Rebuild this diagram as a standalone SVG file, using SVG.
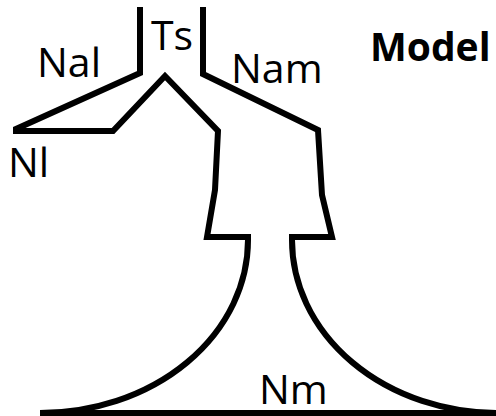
<svg xmlns="http://www.w3.org/2000/svg" width="496" height="416" viewBox="0 0 496 416">
<style>
.ln{fill:none;stroke:#000;stroke-width:6;stroke-linejoin:miter;stroke-miterlimit:10}
.lb{font-family:"Open Sans","Liberation Sans",sans-serif;font-size:41px;fill:#000}
.tt{font-family:"Open Sans","Liberation Sans",sans-serif;font-size:39px;font-weight:bold;fill:#000}
</style>
<rect width="496" height="416" fill="#fff"/>
<g id="outline">
<path class="ln" d="M140,7 L140,73 L16,129 L16,131 L113,131 L165,76 L218,131 L215,190 L207,237 L248,237 L248,240 A208 173 0 0 1 40 413"/>
<path class="ln" d="M203,7 L203,74 L318,130 L322,195 L332,237 L292,237 L292,240 A206 173 0 0 0 498 413"/>
<path class="ln" d="M40,413 L496,413"/>
</g>
<g id="labels">
<text class="lb" x="37" y="77">Nal</text>
<text class="lb" x="151" y="50">Ts</text>
<text class="lb" x="231" y="83">Nam</text>
<text class="lb" x="8" y="177">Nl</text>
<text class="lb" x="259" y="404">Nm</text>
<text class="tt" x="370" y="61">Model</text>
</g>
</svg>
